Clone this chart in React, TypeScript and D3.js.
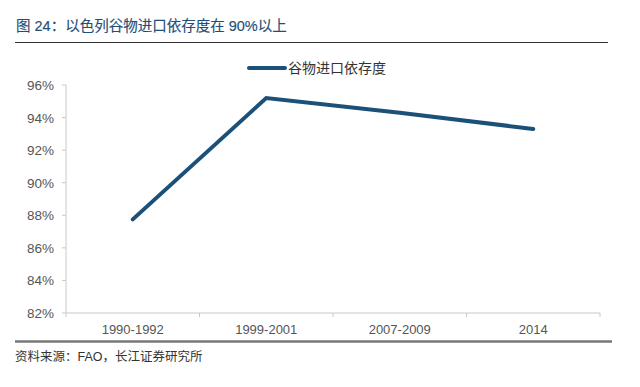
import React from "react";
import * as d3 from "d3";

const categories = ["1990-1992", "1999-2001", "2007-2009", "2014"];
const values = [87.75, 95.2, 94.3, 93.3];
const yTicks = [82, 84, 86, 88, 90, 92, 94, 96];
const seriesName = "谷物进口依存度";
const title = "图 24：以色列谷物进口依存度在 90%以上";
const source = "资料来源：FAO，长江证券研究所";

export default function App() {
  const W = 640, H = 387;
  const left = 66, right = 600, top = 85, bottom = 313;
  const x = d3.scaleBand<string>().domain(categories).range([left, right]);
  const y = d3.scaleLinear().domain([82, 96]).range([bottom, top]);
  const line = d3
    .line<number>()
    .x((_, i) => (x(categories[i]) as number) + x.bandwidth() / 2)
    .y((d) => y(d));
  const font = "'Liberation Sans', Arial, 'Noto Sans CJK SC', sans-serif";
  const bounds = categories.map((c) => x(c) as number).concat([right]);
  return (
    <svg width={W} height={H} style={{ position: "absolute", left: 0, top: 0, background: "#fff" }} fontFamily={font}>
      <text x={16} y={31} fontSize={14.5} fill="#1f4e79" stroke="#1f4e79" strokeWidth={0.15}>{title}</text>
      <line x1={15} x2={608} y1={42.5} y2={42.5} stroke="#333" strokeWidth={1.2} />
      {/* legend */}
      <line x1={249} x2={285} y1={68} y2={68} stroke="#1b5078" strokeWidth={4} strokeLinecap="round" />
      <text x={288} y={73} fontSize={14} fill="#333">{seriesName}</text>
      {/* y axis */}
      <line x1={left} x2={left} y1={top} y2={bottom} stroke="#c8c8c8" />
      {yTicks.map((t) => (
        <g key={t}>
          <line x1={left - 4} x2={left} y1={y(t)} y2={y(t)} stroke="#c8c8c8" />
          <text x={54} y={y(t) + 5} fontSize={13.5} textAnchor="end" fill="#555">{t}%</text>
        </g>
      ))}
      {/* x axis */}
      <line x1={left} x2={right} y1={bottom} y2={bottom} stroke="#c8c8c8" />
      {bounds.map((b, i) => (
        <line key={i} x1={b} x2={b} y1={bottom} y2={bottom + 4} stroke="#c8c8c8" />
      ))}
      {categories.map((c) => (
        <text key={c} x={(x(c) as number) + x.bandwidth() / 2} y={334} fontSize={13} textAnchor="middle" fill="#555">{c}</text>
      ))}
      <path d={line(values) || ""} fill="none" stroke="#1b5078" strokeWidth={4} strokeLinejoin="miter" strokeLinecap="round" />
      <line x1={15} x2={612} y1={341.5} y2={341.5} stroke="#777" strokeWidth={2.5} />
      <text x={15} y={361} fontSize={12.5} fill="#333">{source}</text>
    </svg>
  );
}
